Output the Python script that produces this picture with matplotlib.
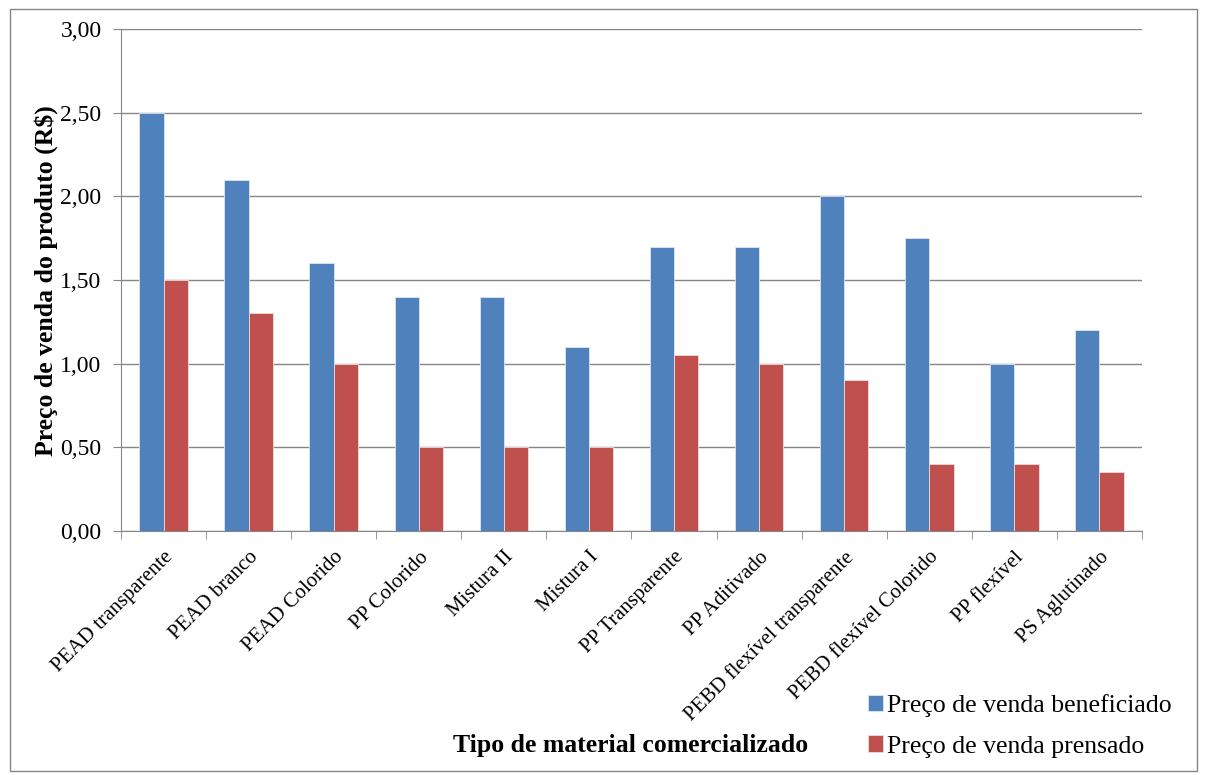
import numpy as np
import matplotlib
matplotlib.use("Agg")
import matplotlib.pyplot as plt
from matplotlib.patches import Rectangle

plt.rcParams['font.family'] = ['Liberation Serif', 'DejaVu Serif']

# Dados
categorias = ["PEAD transparente", "PEAD branco", "PEAD Colorido", "PP Colorido",
              "Mistura II", "Mistura I", "PP Transparente", "PP Aditivado",
              "PEBD flexível transparente", "PEBD flexível Colorido",
              "PP flexível", "PS Aglutinado"]
beneficiado = [2.50, 2.10, 1.60, 1.40, 1.40, 1.10, 1.70, 1.70, 2.00, 1.75, 1.00, 1.20]
prensado = [1.50, 1.30, 1.00, 0.50, 0.50, 0.50, 1.05, 1.00, 0.90, 0.40, 0.40, 0.35]
yticks = [0.0, 0.5, 1.0, 1.5, 2.0, 2.5, 3.0]
yticklabels = ["0,00", "0,50", "1,00", "1,50", "2,00", "2,50", "3,00"]

azul = '#4F81BD'
vermelho = '#C0504D'
cinza = '#868686'

fig = plt.figure(figsize=(12.05, 7.75), dpi=100)
ax = fig.add_axes([0.1004, 0.3148, 0.8473, 0.6478])

x = np.arange(len(categorias))
w = 0.285
ax.bar(x - w / 2, beneficiado, w, color=azul, edgecolor='#dce6f2', linewidth=0.6,
       label='Preço de venda beneficiado', zorder=3)
ax.bar(x + w / 2, prensado, w, color=vermelho, edgecolor='#f2dcdb', linewidth=0.6,
       label='Preço de venda prensado', zorder=3)

ax.set_xlim(-0.5, len(categorias) - 0.5)
ax.set_ylim(0, 3.0)
ax.set_yticks(yticks)
ax.set_yticklabels(yticklabels, fontsize=17)
ax.yaxis.grid(True, color=cinza, linewidth=1.0, zorder=0)

# ticks do eixo x entre categorias
ax.set_xticks(np.arange(len(categorias) + 1) - 0.5, minor=True)
ax.set_xticks(x)
ax.set_xticklabels(categorias, rotation=45, ha='right', rotation_mode='anchor', fontsize=15)
ax.tick_params(axis='x', which='major', length=0, pad=12)
ax.tick_params(axis='x', which='minor', length=6, color=cinza, direction='out')
ax.tick_params(axis='y', length=6, color=cinza, pad=8)

for lado in ['top', 'right']:
    ax.spines[lado].set_visible(False)
ax.spines['left'].set_color(cinza)
ax.spines['bottom'].set_color(cinza)

fig.text(0.038, 0.638, 'Preço de venda do produto (R$)', rotation=90, fontsize=18.5,
         fontweight='bold', ha='center', va='center')
fig.text(0.523, 0.038, 'Tipo de material comercializado', fontsize=18.5,
         fontweight='bold', ha='center', va='center')

fig.legend(loc='upper left', bbox_to_anchor=(868 / 1205, 1 - 694 / 775), frameon=False,
           fontsize=18.5, borderpad=0, borderaxespad=0,
           handlelength=0.6, handleheight=0.6, handletextpad=0.15, labelspacing=0.72)

# moldura
fig.patches.append(Rectangle((0.0083, 0.005), 0.985, 0.983, transform=fig.transFigure,
                             fill=False, edgecolor=cinza, linewidth=1.0))

fig.savefig('out.png', dpi=100)
